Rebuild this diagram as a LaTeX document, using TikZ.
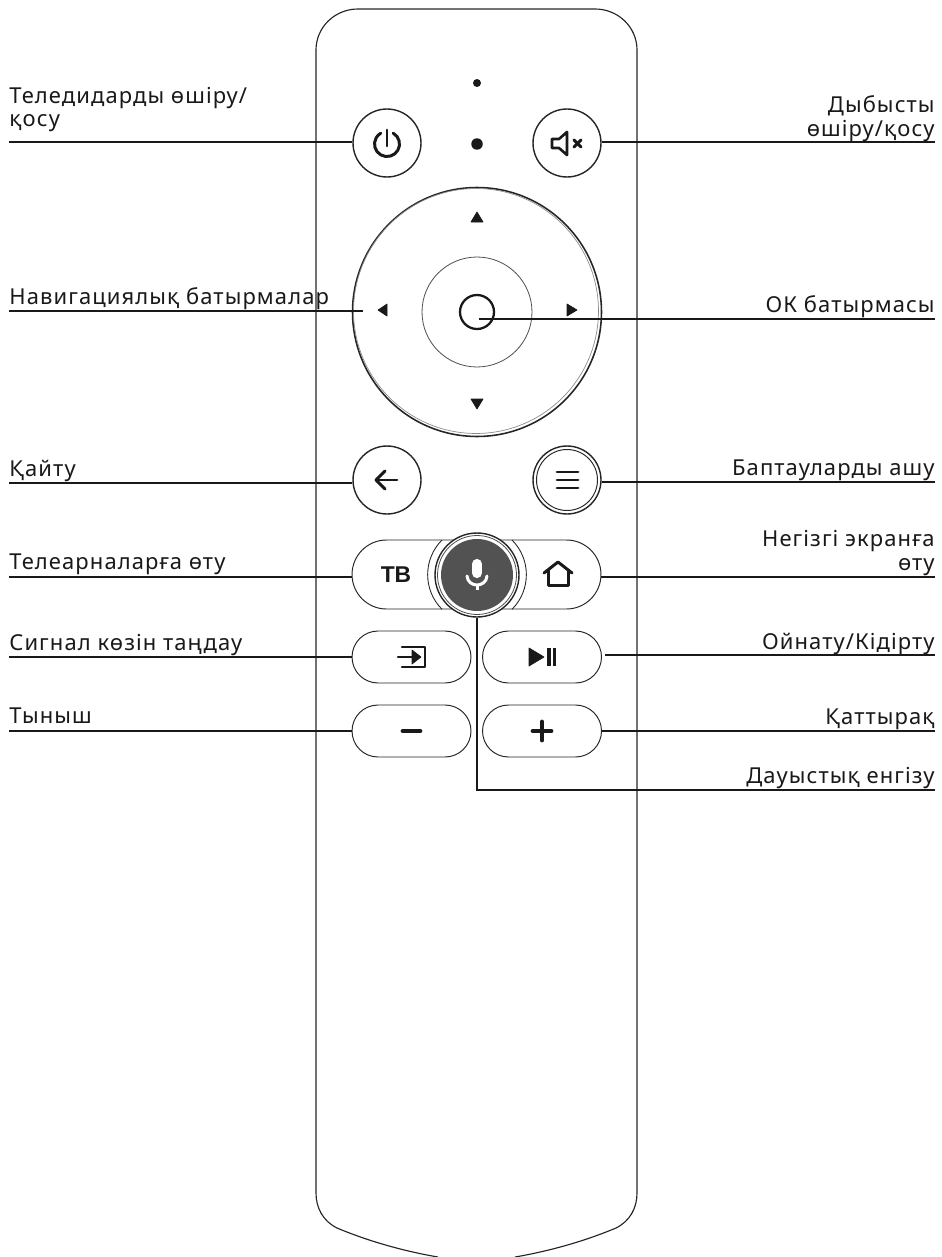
\documentclass[tikz,border=0pt]{standalone}
\usepackage{fontspec}
\setmainfont[LetterSpace=5]{Noto Sans}
\newfontfamily\tvfont{Liberation Sans}
\usetikzlibrary{shapes.misc}
\begin{document}
\begin{tikzpicture}[x=0.02cm, y=-0.02cm,
    round btn/.style = {circle, draw=black!85, line width=0.8pt, fill=white, inner sep=0, minimum size=1.36cm},
    pill/.style = {rounded rectangle, draw=black!85, line width=0.55pt, inner sep=0, minimum width=2.38cm, minimum height=1.04cm},
    lbl/.style = {inner sep=0, font=\fontsize{12.5}{13.6}\selectfont, text=black!90},
    lbl l/.style = {lbl, anchor=base west, align=left},
    lbl r/.style = {lbl, anchor=base east, align=right},
    leader/.style = {draw=black!90, line width=1.3pt},
    icon/.style = {draw=black!90, line width=1.7pt, line cap=round, line join=round},
    solid icon/.style = {fill=black!90, draw=black!90, line width=0.4pt, line join=round}]
        \useasboundingbox (0, 0) rectangle (941, 1257);

        \draw[black!85, line width=0.65pt] (438, 1257) .. controls (403, 1251) and (368, 1241) .. (337, 1228) .. controls (323, 1221) and (316, 1208) .. (316, 1193) -- (316, 50) .. controls (316, 27) and (335, 9) .. (358, 9) -- (595, 9) .. controls (618, 9) and (637, 27) .. (637, 50) -- (637, 1193) .. controls (637, 1208) and (630, 1221) .. (616, 1228) .. controls (585, 1241) and (550, 1251) .. (515, 1257);

        \draw (477, 83) node[circle, fill=black!90, inner sep=0, minimum size=0.16cm] (dotA) {};
        \draw (477, 144) node[circle, fill=black!90, inner sep=0, minimum size=0.23cm] (dotB) {};

        \draw (387, 143) node[round btn] (power) {};
        \draw (567, 143) node[round btn] (mute) {};
        \draw (477, 312) node[circle, draw=black!85, line width=0.9pt, inner sep=0, minimum size=4.98cm] (dpad) {};
        \draw (476, 311) node[circle, draw=black!45, line width=0.4pt, inner sep=0, minimum size=4.9cm] (dpadIn) {};
        \draw (477, 312) node[circle, draw=black!70, line width=0.45pt, inner sep=0, minimum size=2.2cm] (okRing) {};
        \draw (477, 312) node[circle, draw=black!90, line width=1.3pt, inner sep=0, minimum size=0.68cm] (ok) {};
        \draw (387, 480) node[round btn] (back) {};
        \draw (567, 480) node[round btn] (menu) {};
        \draw (567, 480) node[circle, draw=black!85, line width=0.55pt, inner sep=0, minimum size=1.22cm] (menuIn) {};

        \draw (476.5, 574.5) node[pill, minimum width=4.98cm, minimum height=1.38cm] (tvhome) {};
        \draw[black!85, line width=0.5pt] (442, 540) arc[start angle=-135, end angle=-225, radius=49];
        \draw[black!85, line width=0.5pt] (512, 540) arc[start angle=-45, end angle=45, radius=49];
        \draw (477, 575) node[circle, draw=black!85, line width=0.8pt, fill=white, inner sep=0, minimum size=1.68cm] (mic) {};
        \draw (477, 575) node[circle, draw=black!70, line width=0.45pt, inner sep=0, minimum size=1.58cm] (micIn) {};
        \draw (477, 575) node[circle, fill=black!68, inner sep=0, minimum size=1.44cm] (micFill) {};

        \draw (411.5, 657) node[pill] (input) {};
        \draw (542, 657) node[pill] (play) {};
        \draw (411.5, 731) node[pill] (minus) {};
        \draw (542, 731) node[pill] (plus) {};

        \draw[icon] (393.25, 133.2) arc[start angle=-60, end angle=240, radius=12.5];
        \draw[icon] (387, 130) -- (387, 146);
        \draw[icon, line width=1.5pt] (552, 139) -- (559, 139) -- (567, 132) -- (567, 155) -- (559, 148) -- (552, 148) -- cycle;
        \draw[icon, line width=1.8pt] (574, 140) -- (581, 147);
        \draw[icon, line width=1.8pt] (581, 140) -- (574, 147);
        \draw[solid icon] (477, 212) -- (483, 222) -- (471, 222) -- cycle;
        \draw[solid icon] (477, 409) -- (483, 399) -- (471, 399) -- cycle;
        \draw[solid icon] (378, 310) -- (387, 304) -- (387, 316) -- cycle;
        \draw[solid icon] (577, 310) -- (567, 304) -- (567, 316) -- cycle;
        \draw[icon] (376, 480) -- (397, 480);
        \draw[icon] (385, 471) -- (376, 480) -- (385, 489);
        \draw[icon] (557, 472) -- (578, 472);
        \draw[icon] (557, 480) -- (578, 480);
        \draw[icon] (557, 488) -- (578, 488);
        \draw (396, 575) node[inner sep=0, font=\tvfont\fontsize{13}{15}\selectfont\bfseries, text=black!90] (tv) {ТВ};
        \draw[icon] (544, 573) -- (558, 562) -- (572, 573);
        \draw[icon] (548, 570) -- (548, 585) -- (568, 585) -- (568, 570);
        \draw[white, line width=5.8pt, line cap=round] (477, 564) -- (477, 573);
        \draw[white, line width=1.7pt, line cap=round] (467, 576) .. controls (468, 588) and (486, 588) .. (487, 576);
        \draw[white, line width=1.7pt] (477, 584) -- (477, 590);
        \draw[icon, line width=1.5pt] (402, 647) -- (425, 647) -- (425, 667) -- (402, 667);
        \draw[icon, line width=1.5pt] (398, 657) -- (414, 657);
        \draw[solid icon] (412, 650) -- (421, 657) -- (412, 664) -- cycle;
        \draw[solid icon] (529, 648) -- (544, 657) -- (529, 666) -- cycle;
        \draw[icon, line width=1.9pt, line cap=butt] (549, 648) -- (549, 666);
        \draw[icon, line width=1.9pt, line cap=butt] (554.5, 648) -- (554.5, 666);
        \draw[icon, line width=2.8pt] (403, 731) -- (420, 731);
        \draw[icon, line width=2.8pt] (533, 731) -- (551, 731);
        \draw[icon, line width=2.8pt] (542, 722) -- (542, 740);

        \coordinate (powerEnd) at (9, 142);
        \coordinate (muteEnd) at (935, 142);
        \coordinate (navEnd) at (9, 311);
        \coordinate (navTip) at (363, 311);
        \coordinate (okEnd) at (935, 319);
        \coordinate (okTip) at (479, 319);
        \coordinate (backEnd) at (9, 483);
        \coordinate (menuEnd) at (935, 482);
        \coordinate (tvEnd) at (9, 577);
        \coordinate (homeEnd) at (935, 577);
        \coordinate (inputEnd) at (9, 657);
        \coordinate (playEnd) at (935, 655);
        \coordinate (minusEnd) at (9, 731);
        \coordinate (plusEnd) at (935, 731);
        \coordinate (micEnd) at (935, 790);

        \draw[leader] (powerEnd) -- (powerEnd -| power.west);
        \draw[leader] (muteEnd) -- (muteEnd -| mute.east);
        \draw[leader] (navEnd) -- (navTip);
        \draw[leader] (okEnd) -- (okTip);
        \draw[leader] (backEnd) -- (backEnd -| back.west);
        \draw[leader] (menuEnd) -- (menuEnd -| menu.east);
        \draw[leader] (tvEnd) -- (tvEnd -| tvhome.west);
        \draw[leader] (homeEnd) -- (homeEnd -| tvhome.east);
        \draw[leader] (inputEnd) -- (inputEnd -| input.west);
        \draw[leader] (playEnd) -- ([xshift=0.06cm]playEnd -| play.east);
        \draw[leader] (minusEnd) -- (minusEnd -| minus.west);
        \draw[leader] (plusEnd) -- (plusEnd -| plus.east);
        \draw[leader] (mic.south) |- (micEnd);

        \draw (9, 127) node[lbl l] (powerT) {Теледидарды өшіру/\\қосу};
        \draw (935, 136) node[lbl r] (muteT) {Дыбысты\\өшіру/қосу};
        \draw (9, 304) node[lbl l] (navT) {Навигациялық батырмалар};
        \draw (935, 312) node[lbl r] (okT) {ОК батырмасы};
        \draw (9, 476) node[lbl l] (backT) {Қайту};
        \draw (935, 475) node[lbl r] (menuT) {Баптауларды ашу};
        \draw (9, 569) node[lbl l] (tvT) {Телеарналарға өту};
        \draw (935, 570) node[lbl r] (homeT) {Негізгі экранға\\өту};
        \draw (9, 650) node[lbl l] (inputT) {Сигнал көзін таңдау};
        \draw (935, 649) node[lbl r] (playT) {Ойнату/Кідірту};
        \draw (9, 723) node[lbl l] (minusT) {Тыныш};
        \draw (935, 724) node[lbl r] (plusT) {Қаттырақ};
        \draw (935, 783) node[lbl r] (micT) {Дауыстық енгізу};
      \end{tikzpicture}
\end{document}
